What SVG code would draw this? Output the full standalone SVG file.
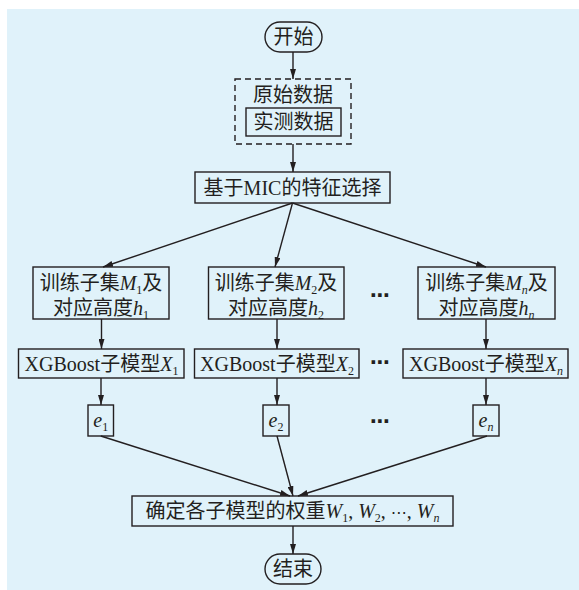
<svg xmlns="http://www.w3.org/2000/svg" width="579" height="590" viewBox="0 0 579 590">
<defs>
<style>
.t{font-family:"Liberation Serif","Noto Sans CJK SC",serif;font-size:20px;fill:#231f20;text-anchor:middle}
.i{font-style:italic}
.s{font-size:12px}
.m{font-family:"DejaVu Sans",sans-serif;font-size:16px}
.b{fill:none;stroke:#231f20;stroke-width:1.4}
.d{fill:none;stroke:#231f20;stroke-width:1.4;stroke-dasharray:6 4}
.c{fill:none;stroke:#231f20;stroke-width:1.4;marker-end:url(#ah)}
.dots{font-family:"DejaVu Sans",sans-serif;font-size:20px;font-weight:bold;fill:#231f20;text-anchor:middle}
</style>
<marker id="ah" viewBox="0 0 10 6" refX="10" refY="3" markerWidth="10" markerHeight="6" markerUnits="userSpaceOnUse" orient="auto">
<path d="M0,0 L10,3 L0,6 z" fill="#231f20"/>
</marker>
</defs>
<rect x="7" y="9" width="572" height="581" fill="#e0f2fa"/>

<g id="start">
<rect class="b" x="265" y="22" width="57" height="30" rx="15"/>
<text class="t" x="293.5" y="44">开始</text>
</g>
<g id="rawdata">
<rect class="d" x="235" y="79" width="116" height="65"/>
<text class="t" x="293" y="102">原始数据</text>
</g>
<g id="measured">
<rect class="b" x="246" y="108" width="95" height="28"/>
<text class="t" x="293.5" y="129">实测数据</text>
</g>
<g id="mic">
<rect class="b" x="195" y="172" width="195" height="31"/>
<text class="t" x="292.5" y="195">基于MIC的特征选择</text>
</g>

<g id="sub1">
<rect class="b" x="33" y="267" width="136" height="52"/>
<text class="t" x="101" y="290">训练子集<tspan class="i">M</tspan><tspan class="s" dy="4">1</tspan><tspan dy="-4">及</tspan></text>
<text class="t" x="101" y="315">对应高度<tspan class="i">h</tspan><tspan class="s" dy="4">1</tspan></text>
</g>
<g id="sub2">
<rect class="b" x="208.5" y="267" width="135.5" height="52"/>
<text class="t" x="276" y="290">训练子集<tspan class="i">M</tspan><tspan class="s" dy="4">2</tspan><tspan dy="-4">及</tspan></text>
<text class="t" x="276" y="315">对应高度<tspan class="i">h</tspan><tspan class="s" dy="4">2</tspan></text>
</g>
<g id="subn">
<rect class="b" x="418" y="267" width="137" height="52"/>
<text class="t" x="486.5" y="290">训练子集<tspan class="i">M</tspan><tspan class="s i" dy="4">n</tspan><tspan dy="-4">及</tspan></text>
<text class="t" x="486.5" y="315">对应高度<tspan class="i">h</tspan><tspan class="s i" dy="4">n</tspan></text>
</g>
<text class="dots" x="380" y="302">⋯</text>

<g id="xgb1">
<rect class="b" x="18.5" y="349" width="165.5" height="29"/>
<text class="t" x="101.5" y="371">XGBoost子模型<tspan class="i">X</tspan><tspan class="s" dy="4">1</tspan></text>
</g>
<g id="xgb2">
<rect class="b" x="194.5" y="349" width="164.5" height="29"/>
<text class="t" x="277" y="371">XGBoost子模型<tspan class="i">X</tspan><tspan class="s" dy="4">2</tspan></text>
</g>
<g id="xgbn">
<rect class="b" x="403" y="349" width="165" height="29"/>
<text class="t" x="486" y="371">XGBoost子模型<tspan class="i">X</tspan><tspan class="s i" dy="4">n</tspan></text>
</g>
<text class="dots" x="380" y="369">⋯</text>

<g id="e1">
<rect class="b" x="88" y="405" width="25.5" height="31"/>
<text class="t" x="100.8" y="427"><tspan class="i">e</tspan><tspan class="s" dy="4">1</tspan></text>
</g>
<g id="e2">
<rect class="b" x="263" y="405" width="26" height="31"/>
<text class="t" x="276" y="427"><tspan class="i">e</tspan><tspan class="s" dy="4">2</tspan></text>
</g>
<g id="en">
<rect class="b" x="473" y="405" width="26" height="31"/>
<text class="t" x="486" y="427"><tspan class="i">e</tspan><tspan class="s i" dy="4">n</tspan></text>
</g>
<text class="dots" x="380" y="428">⋯</text>

<g id="weights">
<rect class="b" x="132" y="496" width="321" height="30"/>
<text class="t" x="292.5" y="518">确定各子模型的权重<tspan class="i">W</tspan><tspan class="s" dy="4">1</tspan><tspan dy="-4">, </tspan><tspan class="i">W</tspan><tspan class="s" dy="4">2</tspan><tspan dy="-4">, </tspan><tspan class="m">⋯</tspan><tspan>, </tspan><tspan class="i">W</tspan><tspan class="s i" dy="4">n</tspan></text>
</g>
<g id="end">
<rect class="b" x="265" y="554" width="56" height="30" rx="15"/>
<text class="t" x="293" y="576">结束</text>
</g>

<g id="connectors">
<line class="c" x1="293" y1="52" x2="293" y2="79"/>
<line class="c" x1="293" y1="144" x2="293" y2="172"/>
<line class="c" x1="292.5" y1="203" x2="103" y2="267"/>
<line class="c" x1="292.5" y1="203" x2="275" y2="267"/>
<line class="c" x1="292.5" y1="203" x2="486" y2="267"/>
<line class="c" x1="101.5" y1="319" x2="101.5" y2="349"/>
<line class="c" x1="277" y1="319" x2="277" y2="349"/>
<line class="c" x1="486" y1="319" x2="486" y2="349"/>
<line class="c" x1="101" y1="378" x2="101" y2="405"/>
<line class="c" x1="277" y1="378" x2="277" y2="405"/>
<line class="c" x1="486" y1="378" x2="486" y2="405"/>
<line class="c" x1="100.8" y1="436" x2="290" y2="496"/>
<line class="c" x1="277" y1="436" x2="293" y2="496"/>
<line class="c" x1="487" y1="436" x2="298" y2="496"/>
<line class="c" x1="293" y1="526" x2="293" y2="554"/>
</g>
</svg>
